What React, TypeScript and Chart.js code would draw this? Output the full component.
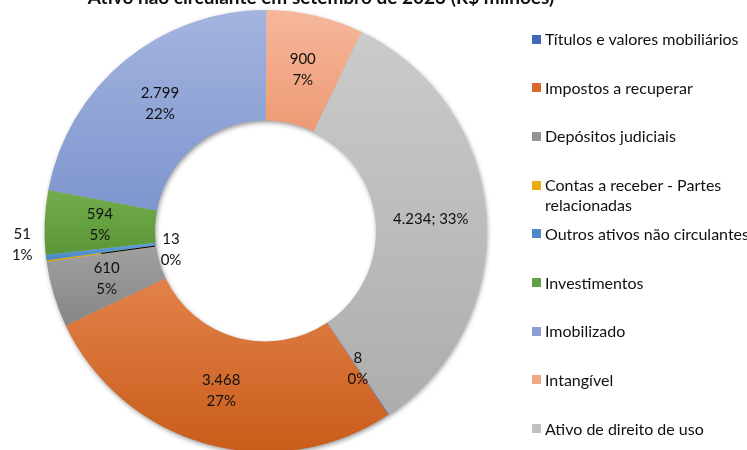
import React, { useEffect, useRef } from "react";
import { Chart, registerables } from "chart.js";

Chart.register(...registerables);

const titleText = "Ativo não circulante em setembro de 2023 (R$ milhões)";
const categories = [
  "Títulos e valores mobiliários",
  "Impostos a recuperar",
  "Depósitos judiciais",
  "Contas a receber - Partes relacionadas",
  "Outros ativos não circulantes",
  "Investimentos",
  "Imobilizado",
  "Intangível",
  "Ativo de direito de uso",
];
const values = [8, 3468, 610, 13, 51, 594, 2799, 900, 4234];
const percentLabels = [0, 27, 5, 0, 1, 5, 22, 7, 33];

const colorsLight = ["#4a74c4", "#e2824a", "#a0a0a0", "#f2b520", "#5f9fd8", "#72ad4d", "#a3b4de", "#f6b79b", "#cbcbcb"];
const colorsDark = ["#3d64b0", "#c95c1a", "#868686", "#dca000", "#4a88c4", "#5a9537", "#7e95cf", "#ee9a74", "#adadad"];
const legendColors = ["#4268b8", "#d8692a", "#949494", "#eaad11", "#4c8ac6", "#63a043", "#8da0d6", "#f2a886", "#c0c0c0"];
const labelModes = ["mid", "mid", "mid", "inner", "outside", "mid", "mid", "mid", "single"];

const FONT = "Lato, 'Open Sans', sans-serif";
const fmt = (v: number) => String(v).replace(/\B(?=(\d{3})+(?!\d))/g, ".");

const ROTATION = 146;
const CANVAS_W = 747;
const CANVAS_H = 480;
const CX = 265.5;
const CY = 231;
const R = 221;

function sliceAngles(data: number[], idx: number) {
  const total = data.reduce((a, b) => a + b, 0);
  let cum = 0;
  for (let i = 0; i < idx; i++) cum += data[i];
  const base = -Math.PI / 2 + (ROTATION * Math.PI) / 180;
  const start = base + (cum / total) * Math.PI * 2;
  const end = start + (data[idx] / total) * Math.PI * 2;
  return { start, end };
}

const ringShadow = {
  id: "ringShadow",
  beforeDatasetsDraw(chart: any) {
    const meta = chart.getDatasetMeta(0);
    const arc = meta.data[0];
    if (!arc) return;
    const { x, y, innerRadius, outerRadius } = arc.getProps(["x", "y", "innerRadius", "outerRadius"], true);
    const ctx = chart.ctx;
    ctx.save();
    ctx.shadowColor = "rgba(0,0,0,0.45)";
    ctx.shadowBlur = 5;
    ctx.shadowOffsetX = 1;
    ctx.shadowOffsetY = 2;
    ctx.fillStyle = "#b0b0b0";
    ctx.beginPath();
    ctx.arc(x, y, outerRadius - 0.5, 0, Math.PI * 2);
    ctx.arc(x, y, innerRadius + 0.5, 0, Math.PI * 2, true);
    ctx.fill("evenodd");
    ctx.restore();
  },
};

const sliceLabels = {
  id: "sliceLabels",
  afterDatasetsDraw(chart: any) {
    const meta = chart.getDatasetMeta(0);
    const ctx = chart.ctx;
    ctx.save();
    ctx.font = `15px ${FONT}`;
    ctx.fillStyle = "#111";
    ctx.textAlign = "center";
    ctx.textBaseline = "middle";
    const lh = 21;
    meta.data.forEach((arc: any, i: number) => {
      const { x, y, startAngle, endAngle, innerRadius, outerRadius } = arc.getProps(
        ["x", "y", "startAngle", "endAngle", "innerRadius", "outerRadius"],
        true
      );
      const a = (startAngle + endAngle) / 2;
      const cos = Math.cos(a);
      const sin = Math.sin(a);
      const v = fmt(values[i]);
      const p = percentLabels[i] + "%";
      const mode = labelModes[i];
      if (mode === "mid" || mode === "single") {
        const rm = (innerRadius + outerRadius) / 2;
        const lx = x + cos * rm;
        const ly = y + sin * rm;
        if (mode === "single") {
          ctx.fillText(`${v}; ${p}`, lx, ly);
        } else {
          ctx.fillText(v, lx, ly - lh / 2);
          ctx.fillText(p, lx, ly + lh / 2);
        }
      } else if (mode === "outside") {
        const ro = outerRadius + 24;
        const lx = x + cos * ro;
        const ly = y + sin * ro - 16;
        ctx.fillText(v, lx, ly - lh / 2);
        ctx.fillText(p, lx, ly + lh / 2);
      } else if (mode === "inner") {
        const rm = (innerRadius + outerRadius) / 2;
        const x1 = x + cos * rm;
        const y1 = y + sin * rm;
        const x2 = x + cos * (innerRadius + 1);
        const y2 = y + sin * (innerRadius + 1);
        ctx.strokeStyle = "#000";
        ctx.lineWidth = 1;
        ctx.beginPath();
        ctx.moveTo(x1, y1);
        ctx.lineTo(x2, y2);
        ctx.stroke();
        const lx = x2 + 16;
        const ly = y2 + 4;
        ctx.fillText(v, lx, ly - lh / 2);
        ctx.fillText(p, lx, ly + lh / 2);
      }
    });
    ctx.restore();
  },
};

export default function App() {
  const canvasRef = useRef<HTMLCanvasElement | null>(null);

  useEffect(() => {
    if (!canvasRef.current) return;
    const chart = new Chart(canvasRef.current, {
      type: "doughnut",
      data: {
        labels: categories,
        datasets: [
          {
            data: values,
            borderWidth: 0,
            backgroundColor: (c: any) => {
              const idx = c.dataIndex;
              const area = c.chart.chartArea;
              if (idx === undefined || !area) return colorsLight[idx ?? 0];
              const cx = (area.left + area.right) / 2;
              const cy = (area.top + area.bottom) / 2;
              const ro = Math.min(area.right - area.left, area.bottom - area.top) / 2;
              const ri = ro * 0.5;
              const { start, end } = sliceAngles(c.dataset.data, idx);
              let minY = Infinity;
              let maxY = -Infinity;
              const n = 60;
              for (let k = 0; k <= n; k++) {
                const t = start + ((end - start) * k) / n;
                for (const rr of [ri, ro]) {
                  const yy = cy + Math.sin(t) * rr;
                  if (yy < minY) minY = yy;
                  if (yy > maxY) maxY = yy;
                }
              }
              if (maxY - minY < 1) maxY = minY + 1;
              const g = c.chart.ctx.createLinearGradient(0, minY, 0, maxY);
              g.addColorStop(0, colorsLight[idx]);
              g.addColorStop(1, colorsDark[idx]);
              return g;
            },
          },
        ],
      },
      options: {
        responsive: false,
        maintainAspectRatio: false,
        animation: false,
        devicePixelRatio: 1,
        rotation: ROTATION,
        cutout: "50%",
        layout: {
          padding: {
            left: CX - R,
            top: CY - R,
            right: CANVAS_W - CX - R,
            bottom: CANVAS_H - CY - R,
          },
        },
        plugins: {
          legend: { display: false },
          title: { display: false },
          tooltip: { enabled: false },
        },
      },
      plugins: [ringShadow, sliceLabels],
    });
    return () => chart.destroy();
  }, []);

  const legendTop0 = 39;
  const legendStep = 48.7;

  return (
    <div
      style={{
        position: "fixed",
        left: 0,
        top: 0,
        width: CANVAS_W,
        height: 450,
        overflow: "hidden",
        background: "#fff",
        fontFamily: FONT,
      }}
    >
      <canvas
        ref={canvasRef}
        width={CANVAS_W}
        height={CANVAS_H}
        style={{ position: "absolute", left: 0, top: 0, width: CANVAS_W, height: CANVAS_H }}
      />
      <div
        style={{
          position: "absolute",
          left: 71,
          width: 500,
          top: -15.5,
          textAlign: "center",
          fontWeight: 700,
          fontSize: 19,
          lineHeight: "24px",
          color: "#111",
          whiteSpace: "nowrap",
        }}
      >
        {titleText}
      </div>
      {categories.map((name, i) => (
        <div
          key={name}
          style={{
            position: "absolute",
            left: 532,
            top: legendTop0 + i * legendStep - 10,
            width: 240,
            display: "flex",
            alignItems: "flex-start",
            fontSize: 16,
            lineHeight: "20px",
            color: "#111",
          }}
        >
          <span
            style={{
              display: "inline-block",
              width: 9,
              height: 9,
              marginTop: 5.5,
              marginRight: 4,
              background: legendColors[i],
              flex: "0 0 auto",
            }}
          />
          <span style={{ whiteSpace: "normal", maxWidth: 212 }}>{name}</span>
        </div>
      ))}
    </div>
  );
}
